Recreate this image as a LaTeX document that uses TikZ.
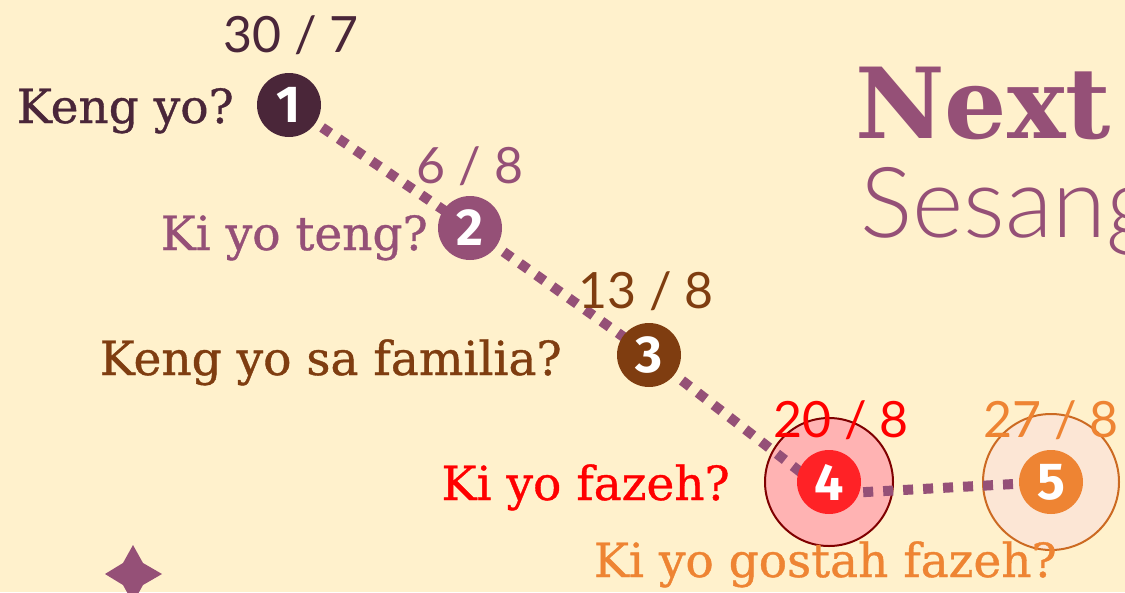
\documentclass[tikz,border=0pt]{standalone}
\usepackage{fontspec}
\setmainfont{DejaVu Serif}
\newfontfamily\slabfont{DejaVu Serif}[FakeBold=0.8]
\newfontfamily\scorefont{Lato}
\newfontfamily\thinfont{Lato Light}
\newfontfamily\numfont{Fira Sans}
\usepackage{xcolor}
\usetikzlibrary{calc}
\definecolor{creamBg}{HTML}{FFF1CC}
\definecolor{plumDark}{HTML}{4A2639}
\definecolor{mauve}{HTML}{955077}
\definecolor{rust}{HTML}{7F3D10}
\definecolor{hotRed}{HTML}{FF2226}
\definecolor{pinkHalo}{HTML}{FFB3B3}
\definecolor{darkRed}{HTML}{7F0000}
\definecolor{tangerine}{HTML}{EE8433}
\definecolor{peachHalo}{HTML}{FCE6D5}
\definecolor{burntOrange}{HTML}{CC6A22}
\tikzset{
	stopdot/.style={circle, minimum size=64pt, inner sep=0pt, text=white, font=\numfont\bfseries\fontsize{52}{52}\selectfont},
	halo/.style={circle, minimum size=#1, inner sep=0pt, line width=2pt},
	question/.style={inner sep=0pt, anchor=base east, font=\slabfont\fontsize{47}{47}\selectfont},
	score/.style={inner sep=0pt, anchor=base, font=\scorefont\fontsize{50}{50}\selectfont},
	trail/.style={line width=10pt, mauve, dash pattern=on 10pt off 10pt},
}

\begin{document}
\begin{tikzpicture}[x=1pt, y=-1pt]
	\fill[creamBg] (0,0) rectangle (1125,592);
	\useasboundingbox (0,0) rectangle (1125,592);
	\clip (0,0) rectangle (1125,592);

	\coordinate (p1) at (289,105);
	\coordinate (p2) at (470,228);
	\coordinate (p3) at (649,355);
	\coordinate (p4) at (829,482);
	\coordinate (p5) at (1051,482);

	\node[halo=128pt, fill=pinkHalo, draw=darkRed] (h4) at (p4) {};
	\node[halo=136pt, fill=peachHalo, draw=burntOrange] (h5) at (p5) {};

	\draw[trail] (p1) -- (p2) -- (p3) -- ([yshift=-12pt]p4) -- (p5);

	\node[stopdot, fill=plumDark] (n1) at (p1) {1};
	\node[stopdot, fill=mauve] (n2) at (p2) {2};
	\node[stopdot, fill=rust] (n3) at (p3) {3};
	\node[stopdot, fill=hotRed] (n4) at (p4) {4};
	\node[stopdot, fill=tangerine] (n5) at (p5) {5};

	\node[question, plumDark] (q1) at (234,123) {Keng yo?};
	\node[question, mauve] (q2) at (428,250) {Ki yo teng?};
	\node[question, rust] (q3) at (562,375) {Keng yo sa familia?};
	\node[question, red] (q4) at (730,500) {Ki yo fazeh?};
	\node[question, tangerine] (q5) at (1057,577) {Ki yo gostah fazeh?};

	\node[score, plumDark] (s1) at (291,52) {30 / 7};
	\node[score, mauve] (s2) at (470,183) {6 / 8};
	\node[score, rust] (s3) at (646,308) {13 / 8};
	\node[score, red] (s4) at (841,437) {20 / 8};
	\node[score, tangerine] (s5) at (1051,437) {27 / 8};

	\node[inner sep=0pt, anchor=base west, mauve, font=\bfseries\fontsize{98}{98}\selectfont] (title) at (855,138) {Next};
	\node[inner sep=0pt, anchor=base west, mauve, font=\thinfont\fontsize{98}{98}\selectfont] (subtitle) at (860,237) {Sesang};

	\fill[mauve] (133,545) -- (123,563) -- (105,574) -- (123,585) -- (133,603) -- (143,585) -- (162,574) -- (143,563) -- cycle;
\end{tikzpicture}
\end{document}
